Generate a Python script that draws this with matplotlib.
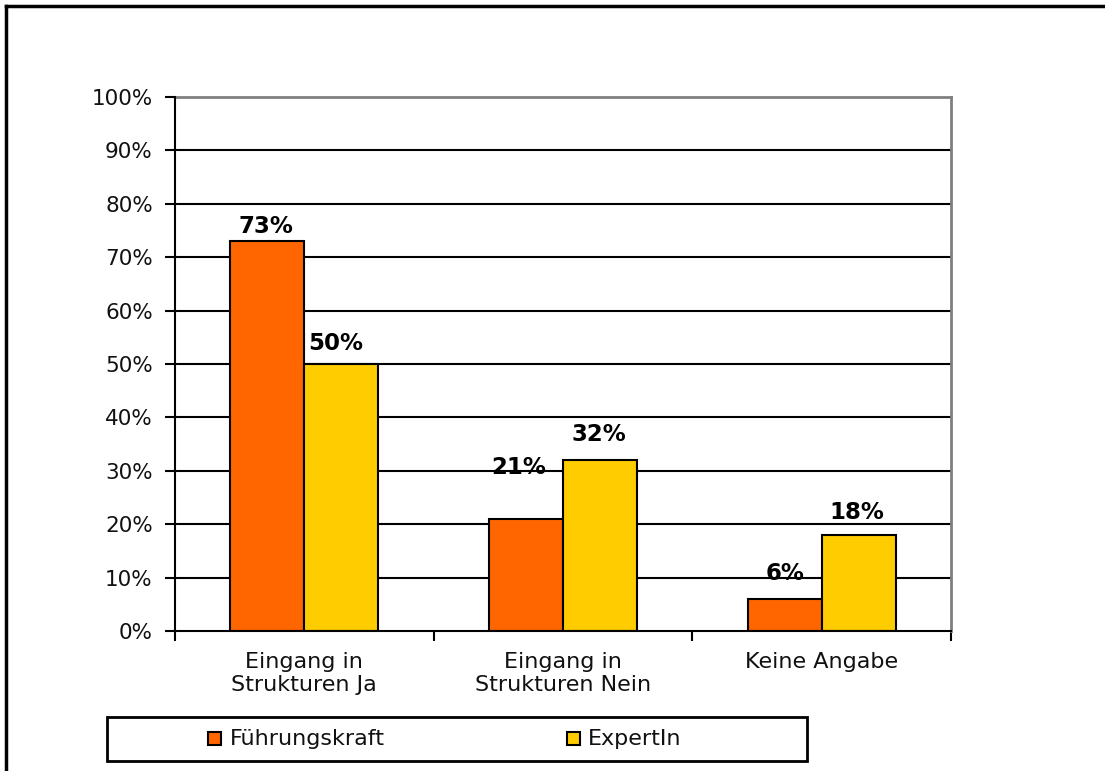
import matplotlib
matplotlib.use("Agg")
import matplotlib.pyplot as plt
from matplotlib.patches import Rectangle
from matplotlib.lines import Line2D
import numpy as np

categories = ["Eingang in\nStrukturen Ja", "Eingang in\nStrukturen Nein", "Keine Angabe"]
series_names = ["Führungskraft", "ExpertIn"]
fuehrung = [73, 21, 6]
expertin = [50, 32, 18]
y_ticks = [0, 10, 20, 30, 40, 50, 60, 70, 80, 90, 100]
colors = ["#FF6600", "#FFCC00"]

# hand-placed label offsets (points) for each series, per category
label_offsets = [
    [(-1, 6), (-5, 32), (0, 14)],
    [(-4, 10), (-1, 14), (-1, 11.5)],
]

plt.rcParams["font.family"] = ["DejaVu Sans"]
W, H = 1105, 771
fig = plt.figure(figsize=(W / 100, H / 100), dpi=100)
fig.patch.set_facecolor("white")

def fx(px):
    return px / W

def fy(py):
    return 1 - py / H

ax = fig.add_axes([fx(175), fy(631), fx(951) - fx(175), fy(97) - fy(631)])

x = np.arange(len(categories)) + 0.5
bw = 1 / 3.5
for vals, col, off, offs in [(fuehrung, colors[0], -bw / 2, label_offsets[0]),
                             (expertin, colors[1], bw / 2, label_offsets[1])]:
    bars = ax.bar(x + off, vals, width=bw, color=col, edgecolor="black",
                  linewidth=1.5, zorder=3)
    for b, v, (dx, dy) in zip(bars, vals, offs):
        ax.annotate(f"{v}%", (b.get_x() + b.get_width() / 2, v),
                    xytext=(dx, dy), textcoords="offset points",
                    ha="center", va="baseline", fontsize=16.5, fontweight="bold",
                    zorder=1)

ax.set_xlim(0, 3)
ax.set_ylim(0, 100)
ax.set_yticks(y_ticks)
ax.set_yticklabels([f"{t}%" for t in y_ticks])
for t in y_ticks[1:-1]:
    ax.axhline(t, color="black", linewidth=1.5, zorder=2)

ax.set_xticks([0, 1, 2, 3])
ax.set_xticklabels([])
ax.set_xticks(x, minor=True)
ax.set_xticklabels(categories, minor=True, fontsize=16, color="#111111")
ax.tick_params(axis="x", which="minor", length=0, pad=15)
ax.tick_params(axis="x", which="major", length=7, width=1.5, direction="out")
ax.tick_params(axis="y", length=7, width=1.5, direction="out", pad=9,
               labelsize=15.5, labelcolor="#111111")

for side in ["left", "bottom"]:
    ax.spines[side].set_color("black")
    ax.spines[side].set_linewidth(1.5)
    ax.spines[side].set_zorder(5)
for side in ["top", "right"]:
    ax.spines[side].set_color("#808080")
    ax.spines[side].set_linewidth(2)

# outer chart frame
fig.add_artist(Line2D([fx(6), fx(6)], [fy(6), 0], color="black", linewidth=2.5,
                      transform=fig.transFigure))
fig.add_artist(Line2D([fx(6), 1], [fy(6), fy(6)], color="black", linewidth=2.5,
                      transform=fig.transFigure))

# legend box
fig.add_artist(Rectangle((fx(107), fy(761)), fx(807) - fx(107), fy(717) - fy(761),
                         transform=fig.transFigure, facecolor="white",
                         edgecolor="black", linewidth=2))
legend_items = [(208, 230), (567, 588)]
for (mx, tx), name, col in zip(legend_items, series_names, colors):
    fig.add_artist(Rectangle((fx(mx), fy(745)), fx(13), fy(732) - fy(745),
                             transform=fig.transFigure, facecolor=col,
                             edgecolor="black", linewidth=1.5))
    fig.text(fx(tx), fy(739), name, ha="left", va="center", fontsize=16,
             color="#111111")

fig.savefig("out.png", dpi=100, facecolor="white")
